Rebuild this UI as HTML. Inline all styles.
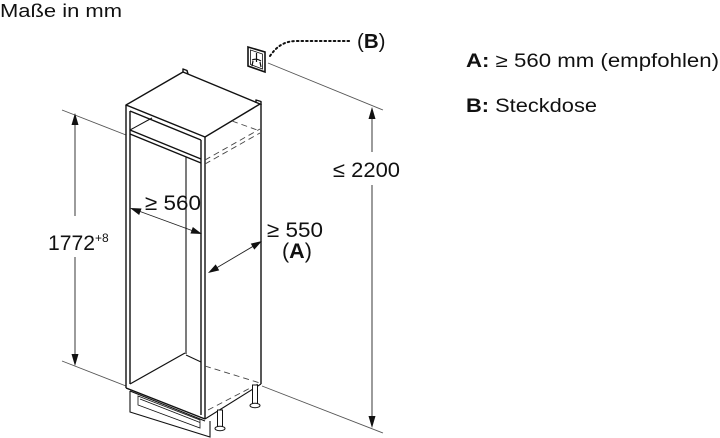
<!DOCTYPE html>
<html>
<head>
<meta charset="utf-8">
<style>
html,body{margin:0;padding:0;background:#fff;}
svg{display:block;}
text{font-family:"Liberation Sans",Arial,sans-serif;fill:#111;}
</style>
</head>
<body>
<svg width="720" height="438" viewBox="0 0 720 438" xmlns="http://www.w3.org/2000/svg">
  <!-- Header text -->
  <text x="0" y="17" font-size="18.5" textLength="122" lengthAdjust="spacingAndGlyphs">Maße in mm</text>

  <!-- Legend -->
  <text x="466" y="67" font-size="19" textLength="253" lengthAdjust="spacingAndGlyphs"><tspan font-weight="bold">A:</tspan> ≥ 560 mm (empfohlen)</text>
  <text x="466" y="112" font-size="19" textLength="131" lengthAdjust="spacingAndGlyphs"><tspan font-weight="bold">B:</tspan> Steckdose</text>

  <!-- Wall lines (gray thin) -->
  <g stroke="#555" stroke-width="0.9" fill="none">
    <line x1="62" y1="110" x2="126" y2="135"/>
    <line x1="62" y1="361" x2="126" y2="386"/>
    <line x1="268" y1="63" x2="383" y2="110"/>
    <line x1="262" y1="386" x2="383" y2="433"/>
  </g>

  <!-- Dimension lines -->
  <g stroke="#222" stroke-width="0.9" fill="none">
    <line x1="75" y1="120" x2="75" y2="216"/>
    <line x1="75" y1="257" x2="75" y2="360"/>
    <line x1="372" y1="114" x2="372" y2="152"/>
    <line x1="372" y1="185" x2="372" y2="422"/>
    <line x1="136" y1="210" x2="196" y2="232"/>
    <line x1="213" y1="270" x2="257" y2="244"/>
  </g>
  <g fill="#111" stroke="none">
    <polygon points="75,113 71.5,125 78.5,125"/>
    <polygon points="75,366 71.5,354 78.5,354"/>
    <polygon points="372,107 368.5,119 375.5,119"/>
    <polygon points="372,428 368.5,416 375.5,416"/>
    <polygon points="130,208 139.16,215.03 141.54,208.45"/>
    <polygon points="202,234 190.46,233.55 192.84,226.97"/>
    <polygon points="208,273 219.24,270.40 215.68,264.38"/>
    <polygon points="262,241 254.32,249.62 250.76,243.60"/>
  </g>

  <!-- Dimension texts -->
  <text x="48" y="250" font-size="21.5" textLength="47" lengthAdjust="spacingAndGlyphs">1772</text>
  <text x="95" y="242" font-size="12">+8</text>
  <text x="333" y="177" font-size="21.5" textLength="67" lengthAdjust="spacingAndGlyphs">≤ 2200</text>
  <text x="145" y="210" font-size="21.5" textLength="56" lengthAdjust="spacingAndGlyphs">≥ 560</text>
  <text x="267" y="237" font-size="21.5" textLength="56" lengthAdjust="spacingAndGlyphs">≥ 550</text>
  <text x="282" y="258" font-size="21.5">(<tspan font-weight="bold">A</tspan>)</text>
  <text x="357" y="48" font-size="20.5">(<tspan font-weight="bold">B</tspan>)</text>

  <!-- Socket -->
  <g stroke="#111" fill="none">
    <polygon points="248,47 265,52 265,72 248,66" stroke-width="1.6"/>
    <polygon points="250.5,50 262.5,54 262.5,69 250.5,64.5" stroke-width="0.8"/>
    <line x1="256.5" y1="53" x2="256.5" y2="62" stroke-width="1.2"/>
    <path d="M252,60 Q256.5,58 261,61" stroke-width="1.2"/>
    <line x1="253" y1="61" x2="252" y2="66" stroke-width="1.2"/>
    <line x1="260" y1="62" x2="261" y2="67" stroke-width="1.2"/>
  </g>
  <!-- Dotted leader -->
  <path d="M270,56 Q280,41 296,41 L352,41" stroke="#111" stroke-width="2" fill="none" stroke-dasharray="1.6,3" stroke-linecap="round"/>

  <!-- Cabinet -->
  <g stroke="#111" stroke-width="1.4" fill="none" stroke-linejoin="round">
    <!-- top face -->
    <polygon points="126,105 183,72 260,104 205,137" fill="#fff"/>
    <!-- tabs -->
    <path d="M183,72 L183,69 L187,70.5 L188,74"/>
    <path d="M256,103 L256,100 L261,101.5 L261,105"/>
    <!-- front left double vertical -->
    <line x1="126" y1="105" x2="126" y2="388"/>
    <line x1="130" y1="111" x2="130" y2="384"/>
    <!-- front right double vertical -->
    <line x1="205" y1="137" x2="205" y2="419"/>
    <line x1="201" y1="140" x2="201" y2="415"/>
    <!-- side right edge -->
    <line x1="261" y1="104" x2="261" y2="384"/>
    <!-- top panel lower edge -->
    <line x1="130" y1="111" x2="201" y2="140"/>
    <!-- shelf -->
    <line x1="130" y1="130" x2="201" y2="159"/>
    <line x1="130" y1="134" x2="201" y2="163"/>
    <!-- shelf edge in niche -->
    <line x1="130" y1="130" x2="152" y2="118" stroke-width="1"/>
    <!-- inner back-right corner -->
    <line x1="186" y1="157" x2="186" y2="354" stroke-width="1.1"/>
    <!-- floor -->
    <line x1="130" y1="384" x2="185" y2="353" stroke-width="1.2"/>
    <line x1="186" y1="355" x2="201" y2="362" stroke-width="1"/>
    <!-- bottom front edge -->
    <line x1="126" y1="388" x2="205" y2="419"/>
    <!-- side bottom edge -->
    <line x1="205" y1="419" x2="261" y2="384" stroke-width="1.1"/>
  </g>
  <!-- hidden dashed lines -->
  <g stroke="#444" stroke-width="0.9" fill="none" stroke-dasharray="6,4">
    <line x1="205" y1="160" x2="260" y2="129"/>
    <line x1="205" y1="164" x2="260" y2="133"/>
    <line x1="232" y1="121" x2="260" y2="131"/>
    <line x1="205" y1="366" x2="260" y2="383"/>
    <line x1="208" y1="410" x2="258" y2="384"/>
  </g>
  <!-- Plinth -->
  <g stroke="#111" fill="none" stroke-width="1.1">
    <path d="M130,391 L130,412 L210,437 L210,421"/>
    <line x1="130" y1="391" x2="205" y2="421"/>
    <path d="M138,396 L200,420 L200,428 L138,405 Z" stroke-width="0.8"/>
    <line x1="140" y1="399" x2="200" y2="422.5" stroke-width="0.8"/>
  </g>
  <!-- Legs -->
  <g stroke="#111" stroke-width="1" fill="#fff">
    <rect x="252.5" y="385" width="5" height="19"/>
    <ellipse cx="255" cy="405.5" rx="5" ry="2.2"/>
    <rect x="217.5" y="410" width="5" height="17"/>
    <ellipse cx="220" cy="428.5" rx="5" ry="2.2"/>
  </g>
</svg>
</body>
</html>
